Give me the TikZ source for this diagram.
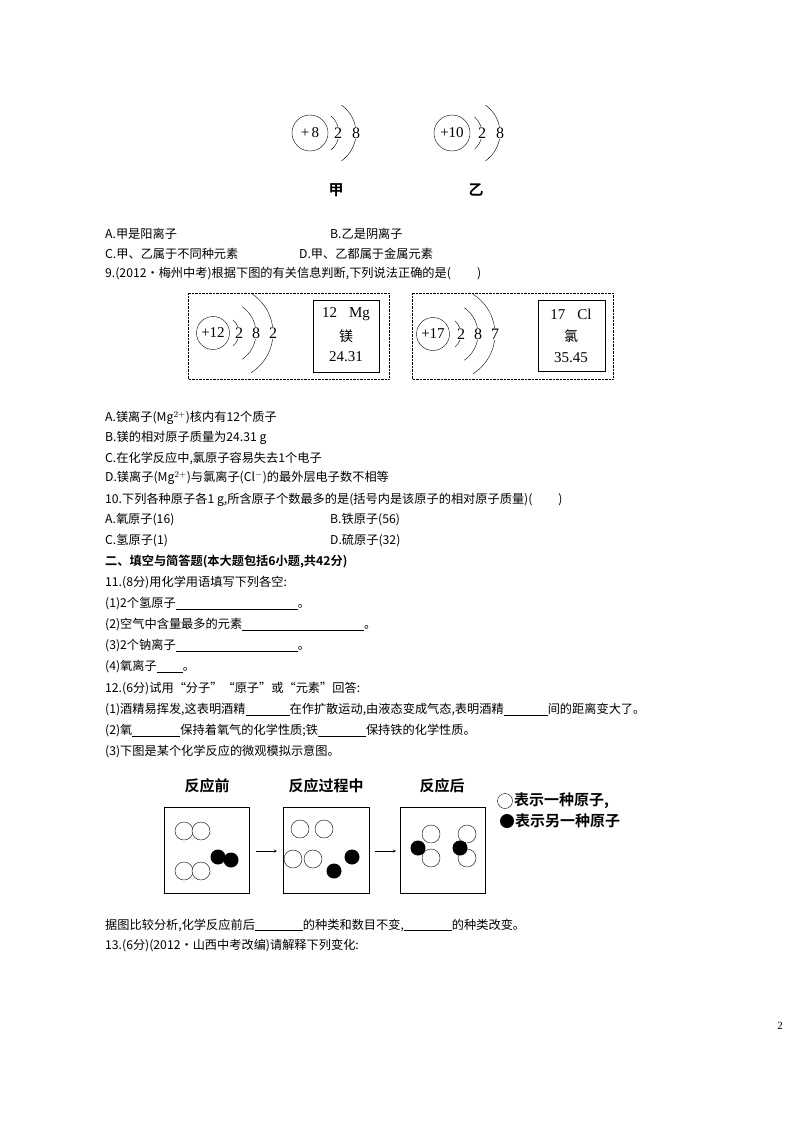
\documentclass[tikz,border=0pt]{standalone}
\usepackage{fontspec}
\setmainfont{Liberation Serif}
\newfontfamily\cjk{Noto Sans CJK SC}
\newfontfamily\cjkb{Noto Sans CJK SC Bold}
\begin{document}
\begin{tikzpicture}[x=1pt,y=-1pt,
  t/.style={anchor=west,inner sep=0pt,font=\cjk\fontsize{12.2}{13}\selectfont},
  num/.style={fill=white,inner sep=0.3pt,font=\fontsize{16}{17}\selectfont},
  nuc/.style={draw,circle,minimum size=#1,inner sep=0pt,font=\fontsize{15}{16}\selectfont},
  ob/.style={draw,circle,minimum size=18pt,inner sep=0pt,fill=white},
  bb/.style={circle,minimum size=15pt,inner sep=0pt,fill=black},
  lab/.style={font=\cjkb\fontsize{15}{16}\selectfont,inner sep=0pt}]
\useasboundingbox (0,0) rectangle (800,1132);
\newcommand\bl[1]{\underline{\hspace{#1pt}}}
% --- atoms 甲 乙
\node[nuc=36pt] (n1) at (310,133) {+\,8};
\draw (317,133) ++(-50:22) arc (-50:50:22); \node[num] (a1) at (338,133) {2};
\draw (322,133) ++(-55:34) arc (-55:55:34); \node[num] (a2) at (356,133) {8};
\node[nuc=36pt] (n2) at (452,133) {+10};
\draw (461,133) ++(-50:21) arc (-50:50:21); \node[num] (b1) at (482,133) {2};
\draw (466,133) ++(-55:34) arc (-55:55:34); \node[num] (b2) at (500,133) {8};
\node[lab] (jia) at (336,190) {甲};
\node[lab] (yi) at (476,190) {乙};
% --- text
\node[t] at (105,234) {A.甲是阳离子};
\node[t] at (330,234) {B.乙是阴离子};
\node[t] at (105,254) {C.甲、乙属于不同种元素};
\node[t] at (299,254) {D.甲、乙都属于金属元素};
\node[t] at (105,274) {9.(2012·梅州中考)根据下图的有关信息判断,下列说法正确的是(\hspace{26pt})};
% --- Mg / Cl
\draw[densely dotted] (188,293) rectangle (389,379);
\draw[densely dotted] (412,293) rectangle (613,379);
\node[nuc=33pt] (m0) at (213,333) {+12};
\draw (222,333) ++(-50:17) arc (-50:50:17); \node[num] at (239,333) {2};
\draw (224,333) ++(-55:32) arc (-55:55:32); \node[num] at (256,333) {8};
\draw (226,333) ++(-58:47) arc (-58:58:47); \node[num] at (273,333) {2};
\draw (313,300) rectangle (379,372);
\node[font=\fontsize{15}{16}\selectfont] at (346,314) {12\hspace{12pt}Mg};
\node[font=\cjk\fontsize{14}{15}\selectfont] at (346,336) {镁};
\node[font=\fontsize{15}{16}\selectfont] at (346,357) {24.31};
\node[nuc=33pt] (c0) at (433,334) {+17};
\draw (444,334) ++(-50:17) arc (-50:50:17); \node[num] at (461,334) {2};
\draw (446,334) ++(-55:32) arc (-55:55:32); \node[num] at (478,334) {8};
\draw (448,334) ++(-58:47) arc (-58:58:47); \node[num] at (495,334) {7};
\draw (538,300) rectangle (605,371);
\node[font=\fontsize{15}{16}\selectfont] at (571,314) {17\hspace{12pt}Cl};
\node[font=\cjk\fontsize{14}{15}\selectfont] at (571,336) {氯};
\node[font=\fontsize{15}{16}\selectfont] at (571,358) {35.45};
% --- text
\node[t] at (105,418) {A.镁离子(Mg$^{2+}$)核内有12个质子};
\node[t] at (105,438) {B.镁的相对原子质量为24.31 g};
\node[t] at (105,458) {C.在化学反应中,氯原子容易失去1个电子};
\node[t] at (105,478) {D.镁离子(Mg$^{2+}$)与氯离子(Cl$^{-}$)的最外层电子数不相等};
\node[t] at (105,500) {10.下列各种原子各1 g,所含原子个数最多的是(括号内是该原子的相对原子质量)(\hspace{26pt})};
\node[t] at (105,520) {A.氧原子(16)};
\node[t] at (330,520) {B.铁原子(56)};
\node[t] at (105,541) {C.氢原子(1)};
\node[t] at (330,541) {D.硫原子(32)};
\node[t,font=\cjkb\fontsize{12.2}{13}\selectfont] at (105,562) {二、填空与简答题(本大题包括6小题,共42分)};
\node[t] at (105,583) {11.(8分)用化学用语填写下列各空:};
\node[t] at (105,604) {(1)2个氢原子\bl{122}。};
\node[t] at (105,625) {(2)空气中含量最多的元素\bl{122}。};
\node[t] at (105,646) {(3)2个钠离子\bl{122}。};
\node[t] at (105,667) {(4)氧离子\bl{26}。};
\node[t] at (105,689) {12.(6分)试用“分子”“原子”或“元素”回答:};
\node[t] at (105,710) {(1)酒精易挥发,这表明酒精\bl{44}在作扩散运动,由液态变成气态,表明酒精\bl{44}间的距离变大了。};
\node[t] at (105,731) {(2)氧\bl{48}保持着氧气的化学性质;铁\bl{48}保持铁的化学性质。};
\node[t] at (105,752) {(3)下图是某个化学反应的微观模拟示意图。};
% --- reaction
\node[lab] (h1) at (207,786) {反应前};
\node[lab] (h2) at (326,786) {反应过程中};
\node[lab] (h3) at (442,786) {反应后};
\draw (164,807) rectangle (249,893);
\draw (283,807) rectangle (369,893);
\draw (400,807) rectangle (485,893);
\coordinate (r1) at (256,851); \coordinate (r2) at (277,851);
\coordinate (s1) at (375,851); \coordinate (s2) at (396,851);
\draw[-stealth] (r1) -- (r2);
\draw[-stealth] (s1) -- (s2);
\node[ob] at (184,831) {}; \node[ob] at (201,831) {};
\node[ob] at (184,871) {}; \node[ob] at (201,871) {};
\node[bb] at (218,857) {}; \node[bb] at (231,860) {};
\node[ob] at (300,829) {}; \node[ob] at (324,829) {};
\node[ob] at (293,859) {}; \node[ob] at (313,859) {};
\node[bb] at (352,857) {}; \node[bb] at (334,871) {};
\node[ob] at (431,834) {}; \node[ob] at (431,858) {};
\node[bb] at (418,848) {};
\node[ob] at (467,834) {}; \node[ob] at (467,858) {};
\node[bb] at (460,848) {};
\node[draw,circle,minimum size=15pt,inner sep=0pt] (l1) at (505,801) {};
\node[lab,anchor=west] at (514,801) {表示一种原子,};
\node[bb,minimum size=14pt] (l2) at (507,821) {};
\node[lab,anchor=west] at (515,821) {表示另一种原子};
% --- text
\node[t] at (105,925) {据图比较分析,化学反应前后\bl{48}的种类和数目不变,\bl{48}的种类改变。};
\node[t] at (105,946) {13.(6分)(2012·山西中考改编)请解释下列变化:};
\node[font=\fontsize{11}{12}\selectfont] at (780,1026) {2};
\end{tikzpicture}
\end{document}
